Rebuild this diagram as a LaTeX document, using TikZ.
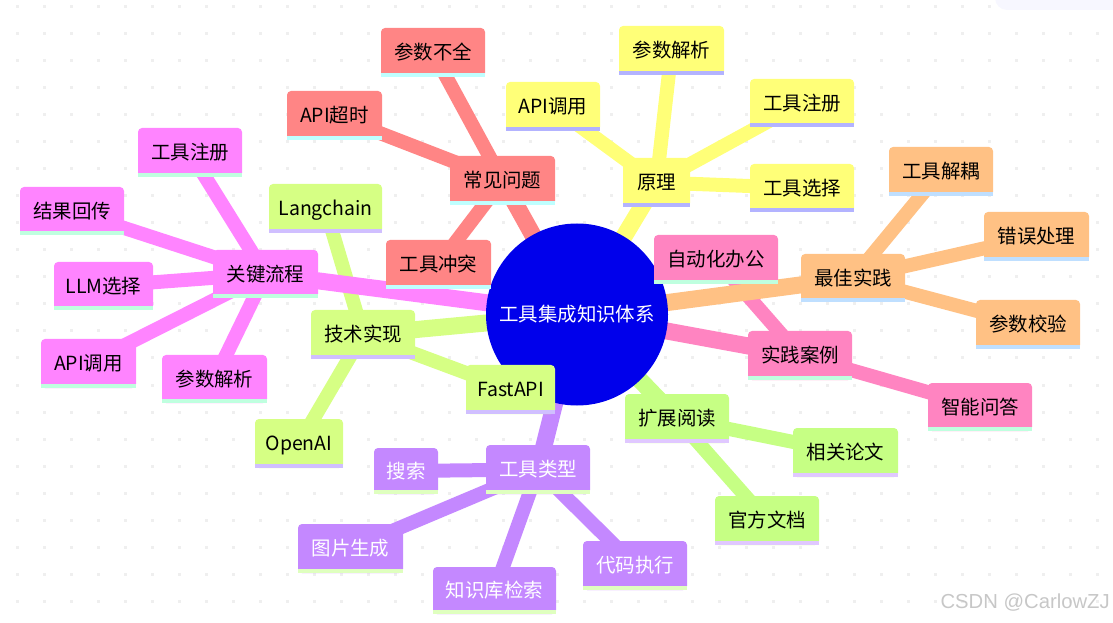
\documentclass[tikz,border=0pt]{standalone}
\usepackage{fontspec}
\setmainfont{Noto Sans CJK SC}
\usetikzlibrary{backgrounds}

\definecolor{fillred}{HTML}{FF8585}    \definecolor{stripred}{HTML}{BFFFFF}    \definecolor{textred}{HTML}{000000}
\definecolor{fillyellow}{HTML}{FFFF78} \definecolor{stripyellow}{HTML}{B3B3FF} \definecolor{textyellow}{HTML}{000000}
\definecolor{fillorange}{HTML}{FFC184} \definecolor{striporange}{HTML}{BFDFFF} \definecolor{textorange}{HTML}{000000}
\definecolor{fillhot}{HTML}{FF84C1}    \definecolor{striphot}{HTML}{BFFFDF}    \definecolor{texthot}{HTML}{000000}
\definecolor{fillgreen}{HTML}{C6FF84}  \definecolor{stripgreen}{HTML}{E0C8FF}  \definecolor{textgreen}{HTML}{000000}
\definecolor{filllime}{HTML}{D6FF84}   \definecolor{striplime}{HTML}{D0BFFF}   \definecolor{textlime}{HTML}{000000}
\definecolor{fillpurple}{HTML}{C488FF} \definecolor{strippurple}{HTML}{DFFFBF} \definecolor{textpurple}{HTML}{FFFFFF}
\definecolor{fillpink}{HTML}{FF84FF}   \definecolor{strippink}{HTML}{BFFFDF}   \definecolor{textpink}{HTML}{000000}
\definecolor{griddot}{HTML}{EFEFEF}

\tikzset{
  leafbox/.style={rounded corners=3pt, inner sep=0pt, text height=13.5pt, text depth=2.5pt},
  trunk/.style={line width=12.75pt},
  twig/.style={line width=10.5pt},
}

\begin{document}
\begin{tikzpicture}[x=0.75pt, y=-0.75pt, font=\fontsize{14.6pt}{17pt}\selectfont]
    \useasboundingbox (0,0) rectangle (1113,623);

    % Root
    \node[circle, fill=blue!92!black, text=white, minimum size=136.5pt, inner sep=0pt, text height=13.5pt, text depth=2.5pt] (root) at (577,314.5) {工具集成知识体系};

    % Data: name, centre, size, colour, label
    \foreach \n/\x/\y/\w/\h/\c/\t in {
      issue/502.5/180.5/105/49/red/常见问题, issueA/433/52.5/104/49/red/参数不全, issueB/334.5/115.5/95/49/red/API超时, issueC/438.5/264.5/105/49/red/工具冲突,
      basic/656.5/182.5/67/49/yellow/原理, basicA/671.5/50.5/105/49/yellow/参数解析, basicB/553/106.5/94/49/yellow/API调用, basicC/802/103/104/48/yellow/工具注册, basicD/802/188/104/48/yellow/工具选择,
      best/853/278/104/48/orange/最佳实践, bestA/941/171.5/104/49/orange/工具解耦, bestB/1036.5/236.5/105/49/orange/错误处理, bestC/1028/324.5/104/49/orange/参数校验,
      case/800/355.5/104/49/hot/实践案例, caseA/716/259.5/124/49/hot/自动化办公, caseB/980/407/104/48/hot/智能问答,
      read/677/418.5/104/49/green/扩展阅读, readA/845.5/452.5/105/49/green/相关论文, readB/767/520.5/104/49/green/官方文档,
      tech/363/334.5/104/49/lime/技术实现, techA/325.5/208.5/113/49/lime/Langchain, techB/510.5/389.5/89/49/lime/FastAPI, techC/299/443.5/88/49/lime/OpenAI,
      kind/538/469.5/104/49/purple/工具类型, kindA/406/471/64/46/purple/搜索, kindB/350.5/548.5/105/49/purple/图片生成, kindC/494.5/590.5/123/47/purple/知识库检索, kindD/635/565.5/104/49/purple/代码执行,
      flow/265.5/274/105/48/pink/关键流程, flowA/190/152.5/104/49/pink/工具注册, flowB/72/211/104/48/pink/结果回传, flowC/103.5/286/99/48/pink/LLM选择, flowD/88.5/363.5/95/49/pink/API调用, flowE/214.5/379/105/48/pink/参数解析} {
      \node[leafbox, fill=fill\c, text=text\c, minimum width=\w*0.75pt, minimum height=\h*0.75pt] (\n) at (\x,\y) {\t};
      \fill[strip\c] (\n.south west) rectangle ([yshift=3pt]\n.south east);
    }

    \node[text=black!22, inner sep=0pt, font=\fontspec{Liberation Sans}\fontsize{15.2pt}{17pt}\selectfont, anchor=east] (mark) at (1110,603) {CSDN @CarlowZJ};

    \begin{pgfonlayer}{background}
      % Dotted paper
      \foreach \i in {0,...,40} \foreach \j in {0,...,22} {
        \fill[griddot] ({15.5+27*\i},{5.5+27*\j}) rectangle ++(3,3);
      }
      \fill[fill=black!3!blue!3!white, rounded corners=9pt] (995,-20) rectangle (1140,10);

      % These leaf edges pass under a root edge
      \foreach \a/\b/\c in {case/caseA/hot, case/caseB/hot, tech/techA/lime} {
        \draw[twig, fill\c] (\a.center) -- (\b.center);
      }
      % Edges from the root
      \foreach \b/\c in {issue/red, basic/yellow, best/orange, case/hot, read/green, tech/lime, kind/purple, flow/pink} {
        \draw[trunk, fill\c] (root.center) -- (\b.center);
      }
      % Edges to the leaves
      \foreach \a/\b/\c in {issue/issueA/red, issue/issueB/red, issue/issueC/red, basic/basicA/yellow, basic/basicB/yellow, basic/basicC/yellow, basic/basicD/yellow, best/bestA/orange, best/bestB/orange, best/bestC/orange, read/readA/green, read/readB/green, tech/techB/lime, tech/techC/lime, kind/kindA/purple, kind/kindB/purple, kind/kindC/purple, kind/kindD/purple, flow/flowA/pink, flow/flowB/pink, flow/flowC/pink, flow/flowD/pink, flow/flowE/pink} {
        \draw[twig, fill\c] (\a.center) -- (\b.center);
      }
    \end{pgfonlayer}
\end{tikzpicture}
\end{document}
